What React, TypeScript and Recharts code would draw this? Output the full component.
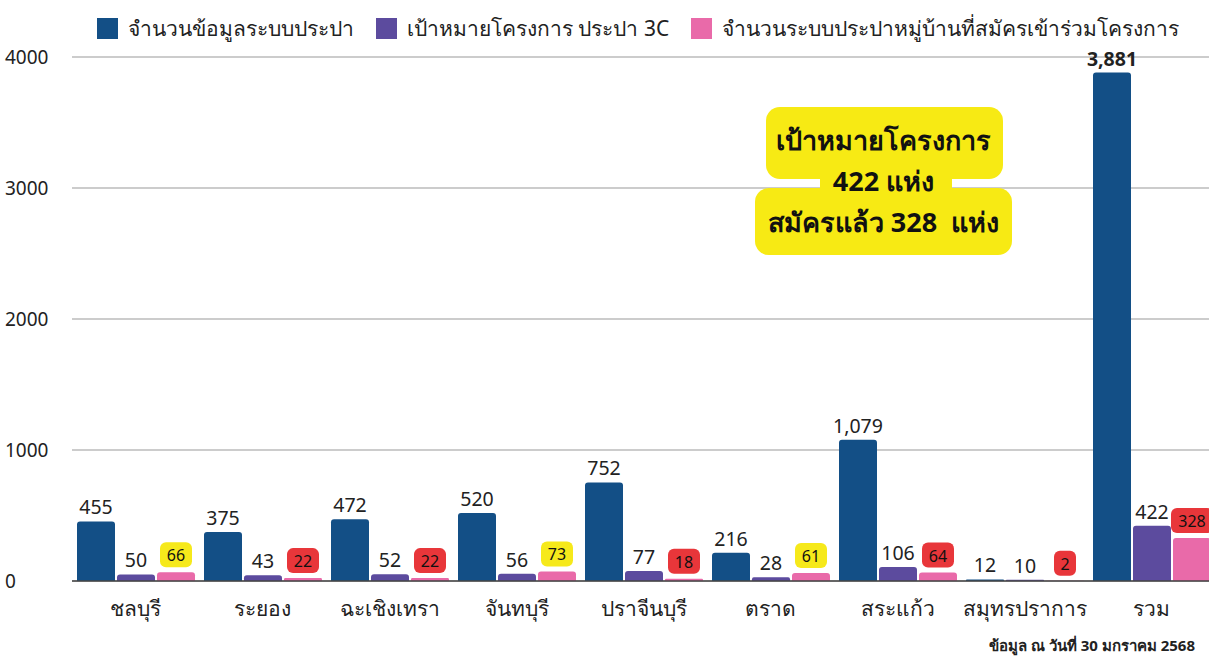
import { BarChart, Bar, XAxis, YAxis, CartesianGrid, Legend, LabelList } from 'recharts';

const provinces = ['ชลบุรี', 'ระยอง', 'ฉะเชิงเทรา', 'จันทบุรี', 'ปราจีนบุรี', 'ตราด', 'สระแก้ว', 'สมุทรปราการ', 'รวม'];
const waterSystems = [455, 375, 472, 520, 752, 216, 1079, 12, 3881];
const targets = [50, 43, 52, 56, 77, 28, 106, 10, 422];
const applied = [66, 22, 22, 73, 18, 61, 64, 2, 328];
const yTicks = [0, 1000, 2000, 3000, 4000];

const seriesNames = {
  systems: 'จำนวนข้อมูลระบบประปา',
  target: 'เป้าหมายโครงการ ประปา 3C',
  applied: 'จำนวนระบบประปาหมู่บ้านที่สมัครเข้าร่วมโครงการ',
};

const BLUE = '#134f86';
const PURPLE = '#5c4b9e';
const PINK = '#e96aa9';
const FONT = '"Noto Sans", "Open Sans", sans-serif';

const data = provinces.map((p, i) => ({
  name: p,
  systems: waterSystems[i],
  target: targets[i],
  applied: applied[i],
}));

const fmt = (v: number) => v.toLocaleString('en-US');

function ValueLabel(props: any) {
  const { x, y, width, value, index } = props;
  const bold = provinces[index] === 'รวม' && value > 1000;
  return (
    <text x={x + width / 2} y={y - 7} textAnchor="middle" fontSize={19.5} fill="#222" fontWeight={bold ? 700 : 400} fontFamily={FONT}>
      {fmt(value)}
    </text>
  );
}

function BadgeLabel(props: any) {
  const { x, y, width, value, index } = props;
  const ok = applied[index] >= targets[index];
  const w = String(value).length * 10 + 12;
  const cx = x + width / 2;
  return (
    <g>
      <rect x={cx - w / 2} y={y - 30} width={w} height={25} rx={6} fill={ok ? '#f6e91b' : '#e8363a'} />
      <text x={cx} y={y - 11} textAnchor="middle" fontSize={16} fill="#111" fontFamily={FONT}>
        {value}
      </text>
    </g>
  );
}

function XTick(props: any) {
  const { x, y, payload } = props;
  return (
    <text x={x} y={y + 27} textAnchor="middle" fontSize={21} fill="#222" fontFamily={FONT}>
      {payload.value}
    </text>
  );
}

function YTick(props: any) {
  const { y, payload } = props;
  return (
    <text x={5} y={y + 7} textAnchor="start" fontSize={19} fill="#222" fontFamily={FONT}>
      {payload.value}
    </text>
  );
}

function LegendContent() {
  const items = [
    { c: BLUE, t: seriesNames.systems },
    { c: PURPLE, t: seriesNames.target },
    { c: PINK, t: seriesNames.applied },
  ];
  return (
    <div style={{ height: 40, display: 'flex', paddingLeft: 97, gap: 22, fontFamily: FONT, fontSize: 21, color: '#222' }}>
      {items.map((it) => (
        <div key={it.t} style={{ display: 'flex', alignItems: 'center', height: 22, whiteSpace: 'nowrap' }}>
          <span style={{ width: 21, height: 21, background: it.c, marginRight: 10, display: 'inline-block' }} />
          <span>{it.t}</span>
        </div>
      ))}
    </div>
  );
}

export default function App() {
  return (
    <div style={{ position: 'fixed', left: 0, top: 0, width: 1209, height: 658, overflow: 'hidden', background: '#fff', fontFamily: FONT }}>
      <BarChart width={1216} height={658} data={data} margin={{ top: 17, right: 1, bottom: 0, left: 0 }} barCategoryGap={5} barGap={2}>
        <CartesianGrid vertical={false} stroke="#bbb" strokeWidth={1.5} />
        <XAxis dataKey="name" height={77} tick={<XTick />} tickLine={false} axisLine={{ stroke: '#444', strokeWidth: 1.5 }} interval={0} />
        <YAxis width={72} domain={[0, 4000]} ticks={yTicks} tick={<YTick />} tickLine={false} axisLine={false} />
        <Legend verticalAlign="top" align="left" content={<LegendContent />} wrapperStyle={{ top: 17 }} />
        <Bar dataKey="systems" name={seriesNames.systems} fill={BLUE} radius={[3, 3, 0, 0]} isAnimationActive={false}>
          <LabelList dataKey="systems" content={<ValueLabel />} />
        </Bar>
        <Bar dataKey="target" name={seriesNames.target} fill={PURPLE} radius={[3, 3, 0, 0]} isAnimationActive={false}>
          <LabelList dataKey="target" content={<ValueLabel />} />
        </Bar>
        <Bar dataKey="applied" name={seriesNames.applied} fill={PINK} radius={[3, 3, 0, 0]} isAnimationActive={false}>
          <LabelList dataKey="applied" content={<BadgeLabel />} />
        </Bar>
      </BarChart>

      {/* yellow callout */}
      <div style={{ position: 'absolute', left: 766, top: 107, width: 237, height: 72, background: '#f7ea14', borderRadius: 14 }} />
      <div style={{ position: 'absolute', left: 820, top: 170, width: 132, height: 26, background: '#f7ea14' }} />
      <div style={{ position: 'absolute', left: 755, top: 188, width: 257, height: 67, background: '#f7ea14', borderRadius: 14 }} />
      <div style={{ position: 'absolute', left: 755, top: 119, width: 257, textAlign: 'center', fontWeight: 700, fontSize: 27, lineHeight: '41px', color: '#111', whiteSpace: 'nowrap' }}>
        เป้าหมายโครงการ
        <br />
        422 แห่ง
        <br />
        สมัครแล้ว 328&nbsp; แห่ง
      </div>

      <div style={{ position: 'absolute', right: 14, top: 634, fontSize: 15, fontWeight: 700, color: '#222' }}>
        ข้อมูล ณ วันที่ 30 มกราคม 2568
      </div>
    </div>
  );
}
